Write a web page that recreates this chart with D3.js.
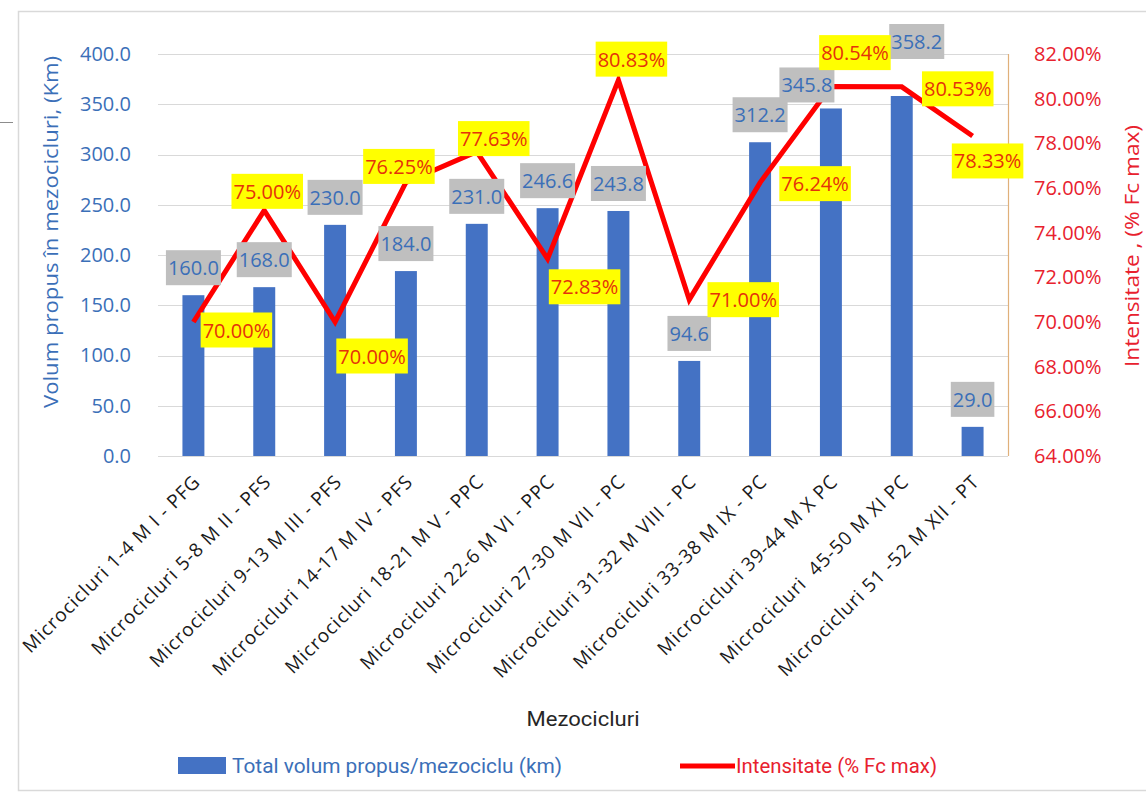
<!DOCTYPE html>
<html>
<head>
<meta charset="utf-8">
<script src="https://cdn.jsdelivr.net/npm/d3@7"></script>
<style>
  html, body { margin: 0; padding: 0; background: #ffffff; }
  svg { display: block; }
</style>
</head>
<body>
<svg id="chart" width="1146" height="794"></svg>
<script>
// Mezocycle categories and the two series plotted against them
const categories = [
  "Microcicluri 1-4 M I - PFG",
  "Microcicluri 5-8 M II - PFS",
  "Microcicluri 9-13 M III - PFS",
  "Microcicluri 14-17 M IV - PFS",
  "Microcicluri 18-21 M V - PPC",
  "Microcicluri 22-6 M VI - PPC",
  "Microcicluri 27-30 M VII - PC",
  "Microcicluri 31-32 M VIII - PC",
  "Microcicluri 33-38 M IX - PC",
  "Microcicluri 39-44 M X PC",
  "Microcicluri  45-50 M XI PC",
  "Microcicluri 51 -52 M XII - PT"
];
const volume = [160.0, 168.0, 230.0, 184.0, 231.0, 246.6, 243.8, 94.6, 312.2, 345.8, 358.2, 29.0];
const intensity = [70.00, 75.00, 70.00, 76.25, 77.63, 72.83, 80.83, 71.00, 76.24, 80.54, 80.53, 78.33];
const volumeTicks = [0, 50, 100, 150, 200, 250, 300, 350, 400];
const intensityTicks = [64, 66, 68, 70, 72, 74, 76, 78, 80, 82];

const seriesNames = ["Total volum propus/mezociclu (km)", "Intensitate (% Fc max)"];
const axisTitles = {
  left: "Volum propus în mezocicluri, (Km)",
  right: "Intensitate , (% Fc max)",
  bottom: "Mezocicluri"
};

// Layout
const plot = { left: 158, right: 1008, top: 54, bottom: 456 };
const BLUE = "#4472c4";
const BLUE_TEXT = "#3b6fb8";
const RED = "#ff0000";
const RED_TEXT = "#e8212e";
const LABEL_RED = "#e5320a";
const GRID = "#d9d9d9";
const NUM_FONT = "'Open Sans', 'Noto Sans', sans-serif";

// Hand placement of individual data labels (pixel nudges)
const volumeLabelNudge = { 9: [-24, 4], 10: [15, -27] };
const intensityLabelOffset = [
  [43, 8], [3, -19], [37, 34], [-7, -16], [17, -13], [37, 28],
  [13, -21], [54, 0], [55, 1], [24, -34], [56, 2], [15, 25]
];

const svg = d3.select("#chart");

// Outer chart frame
svg.append("rect")
  .attr("x", 18.5).attr("y", 11.5)
  .attr("width", 1160).attr("height", 779)
  .attr("fill", "none").attr("stroke", GRID).attr("stroke-width", 1.5);
svg.append("line")
  .attr("x1", 0).attr("x2", 13).attr("y1", 122.5).attr("y2", 122.5)
  .attr("stroke", "#8c8c8c").attr("stroke-width", 1);

// Scales
const x = d3.scaleBand()
  .domain(categories)
  .range([plot.left, plot.right])
  .paddingInner(0.69)
  .paddingOuter(0.345);
const yL = d3.scaleLinear().domain([0, 400]).range([plot.bottom, plot.top]);
const yR = d3.scaleLinear().domain([64, 82]).range([plot.bottom, plot.top]);
const cx = c => x(c) + x.bandwidth() / 2;

// Gridlines
svg.append("g")
  .selectAll("line")
  .data(volumeTicks)
  .join("line")
  .attr("x1", plot.left).attr("x2", plot.right)
  .attr("y1", d => Math.round(yL(d)) + 0.5)
  .attr("y2", d => Math.round(yL(d)) + 0.5)
  .attr("stroke", GRID).attr("stroke-width", 1.2);

// Right axis line
svg.append("line")
  .attr("x1", plot.right + 0.5).attr("x2", plot.right + 0.5)
  .attr("y1", plot.top).attr("y2", plot.bottom)
  .attr("stroke", "#e0b07a").attr("stroke-width", 1.2);

// Left axis
const gLeft = svg.append("g")
  .attr("transform", `translate(${plot.left},0)`)
  .call(d3.axisLeft(yL).tickValues(volumeTicks).tickSize(0).tickPadding(27).tickFormat(d3.format(".1f")));
gLeft.select(".domain").remove();
gLeft.selectAll("text")
  .attr("font-family", NUM_FONT).attr("font-size", 20)
  .attr("fill", BLUE_TEXT);

// Right axis
const gRight = svg.append("g")
  .attr("transform", `translate(${plot.right},0)`)
  .call(d3.axisRight(yR).tickValues(intensityTicks).tickSize(0).tickPadding(26).tickFormat(d => d3.format(".2f")(d) + "%"));
gRight.select(".domain").remove();
gRight.selectAll("text")
  .attr("font-family", NUM_FONT).attr("font-size", 20)
  .attr("fill", RED_TEXT);

// Bottom axis with rotated category labels
const gBottom = svg.append("g")
  .attr("transform", `translate(0,${plot.bottom})`)
  .call(d3.axisBottom(x).tickSize(0).tickPadding(0));
gBottom.select(".domain").remove();
gBottom.selectAll(".tick text")
  .attr("font-family", "'Open Sans', sans-serif")
  .attr("font-size", 19)
  .attr("letter-spacing", 0.9)
  .attr("fill", "#1a1a1a")
  .attr("text-anchor", "end")
  .attr("dy", null)
  .attr("y", null)
  .style("white-space", "pre")
  .attr("transform", "translate(8,27) rotate(-45)");

// Bars
svg.append("g")
  .selectAll("rect")
  .data(volume)
  .join("rect")
  .attr("x", (d, i) => x(categories[i]))
  .attr("y", d => yL(d))
  .attr("width", x.bandwidth())
  .attr("height", d => yL(0) - yL(d))
  .attr("fill", BLUE);

// Intensity line
const line = d3.line()
  .x((d, i) => cx(categories[i]))
  .y(d => yR(d));
svg.append("path")
  .datum(intensity)
  .attr("d", line)
  .attr("fill", "none")
  .attr("stroke", RED)
  .attr("stroke-width", 5)
  .attr("stroke-linejoin", "miter");

// Labelled box helper: text centred at (x, y) on a filled rectangle
function boxedLabel(parent, txt, x0, y0, fill, color) {
  const g = parent.append("g");
  const rect = g.append("rect").attr("fill", fill);
  const t = g.append("text")
    .attr("x", x0).attr("y", y0)
    .attr("text-anchor", "middle")
    .attr("dominant-baseline", "central")
    .attr("font-family", NUM_FONT)
    .attr("font-size", 20)
    .attr("fill", color)
    .text(txt);
  const w = t.node().getComputedTextLength();
  rect.attr("x", x0 - w / 2 - 2).attr("y", y0 - 17.5)
    .attr("width", w + 4).attr("height", 35);
}

// Volume labels above bars
const volLabels = svg.append("g");
volume.forEach((v, i) => {
  const n = volumeLabelNudge[i] || [0, 0];
  const bx = cx(categories[i]) + n[0];
  const by = yL(v) - 10 - 17.5 + n[1];
  boxedLabel(volLabels, d3.format(".1f")(v), bx, by, "#bfbfbf", BLUE_TEXT);
});

// Intensity labels near the line points
const pctLabels = svg.append("g");
intensity.forEach((v, i) => {
  const o = intensityLabelOffset[i];
  boxedLabel(pctLabels, d3.format(".2f")(v) + "%", cx(categories[i]) + o[0], yR(v) + o[1], "#ffff00", LABEL_RED);
});

// Axis titles
svg.append("text")
  .attr("transform", "translate(58,232) rotate(-90)")
  .attr("text-anchor", "middle")
  .attr("font-family", "'Open Sans', sans-serif")
  .attr("font-size", 20)
  .attr("fill", BLUE_TEXT)
  .attr("textLength", 352)
  .attr("lengthAdjust", "spacingAndGlyphs")
  .text(axisTitles.left);

svg.append("text")
  .attr("transform", "translate(1139,246) rotate(-90)")
  .attr("text-anchor", "middle")
  .attr("font-family", "'Open Sans', sans-serif")
  .attr("font-size", 20)
  .attr("fill", RED_TEXT)
  .attr("textLength", 242)
  .attr("lengthAdjust", "spacingAndGlyphs")
  .text(axisTitles.right);

svg.append("text")
  .attr("x", 583).attr("y", 726)
  .attr("text-anchor", "middle")
  .attr("font-family", "Roboto, sans-serif")
  .attr("font-size", 21)
  .attr("fill", "#262626")
  .attr("textLength", 113)
  .attr("lengthAdjust", "spacingAndGlyphs")
  .text(axisTitles.bottom);

// Legend
const legend = svg.append("g");
legend.append("rect")
  .attr("x", 178).attr("y", 757).attr("width", 48).attr("height", 17)
  .attr("fill", BLUE);
legend.append("text")
  .attr("x", 232).attr("y", 773)
  .attr("font-family", "Roboto, sans-serif")
  .attr("font-size", 21)
  .attr("fill", BLUE_TEXT)
  .attr("textLength", 330)
  .attr("lengthAdjust", "spacingAndGlyphs")
  .text(seriesNames[0]);
legend.append("line")
  .attr("x1", 680).attr("x2", 735).attr("y1", 766).attr("y2", 766)
  .attr("stroke", RED).attr("stroke-width", 5);
legend.append("text")
  .attr("x", 736).attr("y", 773)
  .attr("font-family", "Roboto, sans-serif")
  .attr("font-size", 21)
  .attr("fill", RED_TEXT)
  .attr("textLength", 201)
  .attr("lengthAdjust", "spacingAndGlyphs")
  .text(seriesNames[1]);
</script>
</body>
</html>
